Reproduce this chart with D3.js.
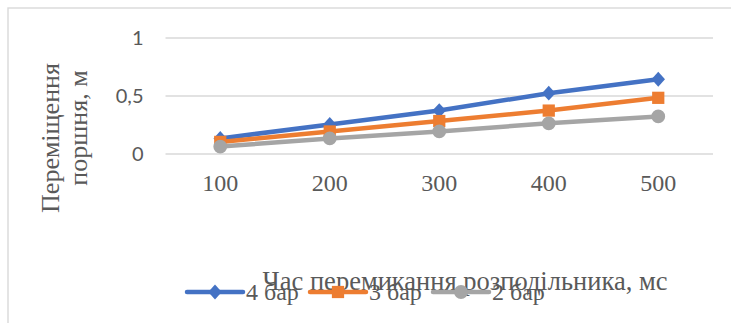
<!DOCTYPE html>
<html>
<head>
<meta charset="utf-8">
<script src="https://cdn.jsdelivr.net/npm/d3@7"></script>
<style>
  html, body { margin: 0; padding: 0; background: #fff; }
  svg { display: block; }
</style>
</head>
<body>
<svg id="chart" width="731" height="323"></svg>
<script>
// Switching time of the distributor, ms
const categories = ["100", "200", "300", "400", "500"];
// Piston displacement, m, for each supply pressure
const seriesNames = ["4 бар", "3 бар", "2 бар"];
const values4bar = [0.13, 0.25, 0.37, 0.52, 0.64];
const values3bar = [0.10, 0.19, 0.28, 0.37, 0.48];
const values2bar = [0.06, 0.13, 0.19, 0.26, 0.32];
const yTicks = [0, 0.5, 1];

// wide diamond marker (a square turned by 45 degrees, slightly taller)
const wideDiamond = {
  draw(context, size) {
    const w = Math.sqrt(size) * 0.55, h = w * 1.1;
    context.moveTo(0, -h);
    context.lineTo(w, 0);
    context.lineTo(0, h);
    context.lineTo(-w, 0);
    context.closePath();
  }
};

const series = [
  { name: seriesNames[0], values: values4bar, color: "#4472C4", symbol: wideDiamond, size: 150 },
  { name: seriesNames[1], values: values3bar, color: "#ED7D31", symbol: d3.symbolSquare, size: 150 },
  { name: seriesNames[2], values: values2bar, color: "#A5A5A5", symbol: d3.symbolCircle, size: 150 }
];

const svg = d3.select("#chart");
const serif = "'Liberation Serif', 'Times New Roman', serif";
const sans = "Lato, 'Open Sans', sans-serif";
const textColor = "#595959";

// chart area frame
svg.append("rect")
  .attr("x", 8).attr("y", 8)
  .attr("width", 760).attr("height", 340)
  .attr("fill", "none").attr("stroke", "#d9d9d9").attr("stroke-width", 1.4);

const plot = { left: 165.5, right: 713, top: 37.5, bottom: 153.5 };

const x = d3.scaleBand().domain(categories).range([plot.left, plot.right]);
const y = d3.scaleLinear().domain([0, 1]).range([plot.bottom, plot.top]);

const locale = d3.formatLocale({ decimal: ",", thousands: " ", grouping: [3], currency: ["", ""] });
const fmt = locale.format("~g");

// value axis with gridlines
const yAxis = svg.append("g")
  .attr("transform", `translate(${plot.left},0)`)
  .call(d3.axisLeft(y).tickValues(yTicks).tickFormat(fmt)
    .tickSize(-(plot.right - plot.left)).tickPadding(22));
yAxis.select(".domain").remove();
yAxis.selectAll(".tick line").attr("stroke", "#d9d9d9").attr("stroke-width", 1.4);
yAxis.selectAll(".tick text")
  .attr("fill", textColor).attr("font-family", sans).attr("font-size", 20)
  .attr("dy", "0.36em");

// category axis
const xAxis = svg.append("g")
  .attr("transform", `translate(0,${plot.bottom})`)
  .call(d3.axisBottom(x).tickSize(0).tickPadding(20));
xAxis.select(".domain").remove();
xAxis.selectAll(".tick text")
  .attr("fill", textColor).attr("font-family", serif).attr("font-size", 24);

// series lines and markers
const cx = (d, i) => x(categories[i]) + x.bandwidth() / 2;
const line = d3.line().x((d, i) => cx(d, i)).y(d => y(d));

series.forEach(s => {
  const g = svg.append("g");
  g.append("path")
    .attr("d", line(s.values))
    .attr("fill", "none").attr("stroke", s.color)
    .attr("stroke-width", 4.5).attr("stroke-linejoin", "round").attr("stroke-linecap", "round");
  g.selectAll("path.m").data(s.values).join("path")
    .attr("class", "m")
    .attr("transform", (d, i) => `translate(${cx(d, i)},${y(d)})`)
    .attr("d", d3.symbol().type(s.symbol).size(s.size))
    .attr("fill", s.color);
});

// axis titles
svg.append("text")
  .attr("transform", "translate(59,138) rotate(-90)")
  .attr("text-anchor", "middle")
  .attr("fill", textColor).attr("font-family", serif).attr("font-size", 26)
  .text("Переміщення");
svg.append("text")
  .attr("transform", "translate(87,128) rotate(-90)")
  .attr("text-anchor", "middle")
  .attr("fill", textColor).attr("font-family", serif).attr("font-size", 26)
  .text("поршня, м");

svg.append("text")
  .attr("x", 465).attr("y", 290)
  .attr("text-anchor", "middle")
  .attr("fill", textColor).attr("font-family", serif).attr("font-size", 26.5)
  .text("Час перемикання розподільника, мс");

// legend
const legendX = [187, 310, 433];
const legend = svg.append("g");
series.forEach((s, i) => {
  const g = legend.append("g").attr("transform", `translate(${legendX[i]},292)`);
  g.append("line")
    .attr("x1", 0).attr("x2", 56)
    .attr("stroke", s.color).attr("stroke-width", 4.5).attr("stroke-linecap", "round");
  g.append("path")
    .attr("transform", "translate(28,0)")
    .attr("d", d3.symbol().type(s.symbol).size(s.size))
    .attr("fill", s.color);
  g.append("text")
    .attr("x", 59).attr("y", 8)
    .attr("fill", textColor).attr("font-family", serif).attr("font-size", 24)
    .text(s.name);
});
</script>
</body>
</html>
